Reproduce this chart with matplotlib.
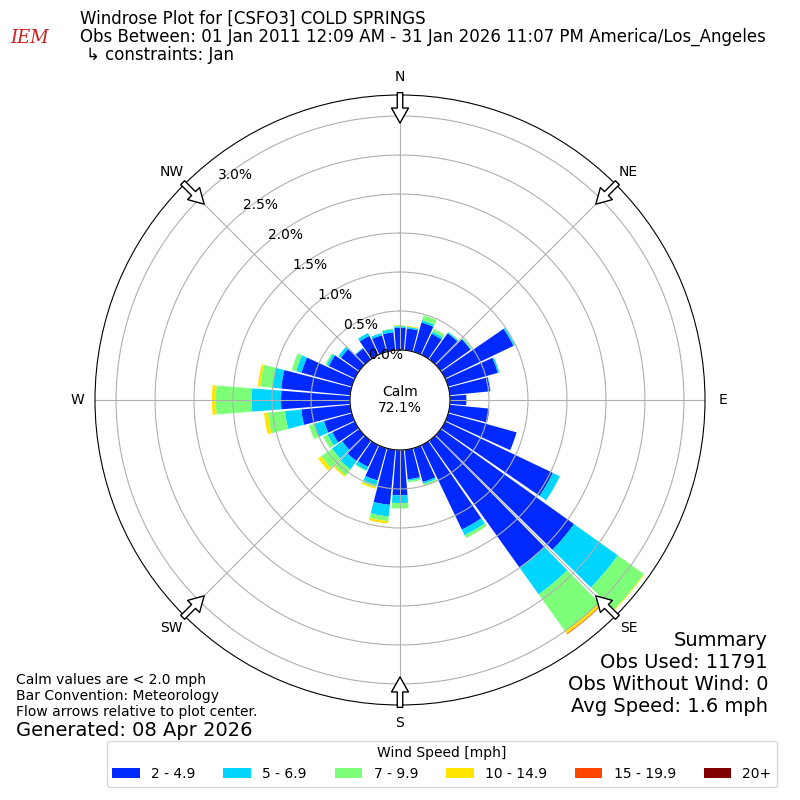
import numpy as np
import matplotlib
matplotlib.use("Agg")
import matplotlib.pyplot as plt

# wind direction bins (deg, direction wind is from)
directions = np.arange(0, 360, 10)
speed_labels = ["2 - 4.9", "5 - 6.9", "7 - 9.9", "10 - 14.9", "15 - 19.9", "20+"]

# percent of obs per direction bin, one list per speed bin
spd_2_5 = [0.285, 0.28, 0.39, 0.30, 0.41, 0.47, 0.97, 0.66, 0.52, 0.21,
           0.51, 0.91, 1.53, 2.10, 2.00, 1.20, 0.45, 0.38, 0.58, 0.71,
           0.43, 0.31, 0.32, 0.27, 0.32, 0.37, 0.63, 0.885, 0.89, 0.67,
           0.37, 0.29, 0.17, 0.27, 0.22, 0.23]
spd_5_7 = [0.02, 0.02, 0.03, 0.03, 0.015, 0.01, 0.02, 0.02, 0.005, 0.0,
           0.0, 0.0, 0.10, 0.69, 0.42, 0.08, 0.025, 0.02, 0.10, 0.15,
           0.06, 0.05, 0.13, 0.16, 0.07, 0.13, 0.21, 0.375, 0.11, 0.07,
           0.03, 0.04, 0.01, 0.04, 0.03, 0.04]
spd_7_10 = [0.01, 0.005, 0.065, 0.04, 0.01, 0.01, 0.005, 0.0, 0.0, 0.0,
            0.0, 0.0, 0.005, 0.41, 0.58, 0.04, 0.025, 0.02, 0.07, 0.06,
            0.03, 0.01, 0.10, 0.17, 0.06, 0.07, 0.22, 0.46, 0.16, 0.06,
            0.02, 0.0, 0.0, 0.0, 0.0, 0.01]
spd_10_15 = [0.005, 0.01, 0.0, 0.0, 0.0, 0.0, 0.0, 0.0, 0.0, 0.0,
             0.0, 0.0, 0.0, 0.01, 0.04, 0.0, 0.0, 0.0, 0.0, 0.03,
             0.02, 0.0, 0.02, 0.05, 0.0, 0.0, 0.05, 0.05, 0.03, 0.0,
             0.0, 0.0, 0.0, 0.0, 0.0, 0.0]
spd_15_20 = [0.0] * 14 + [0.01] + [0.0] * 21
spd_20p = [0.0] * 36

calm_pct = 72.1
rticks = [0.0, 0.5, 1.0, 1.5, 2.0, 2.5, 3.0]
compass = ["N", "NE", "E", "SE", "S", "SW", "W", "NW"]

speed_data = [spd_2_5, spd_5_7, spd_7_10, spd_10_15, spd_15_20, spd_20p]
colors = plt.get_cmap("jet")(np.linspace(0, 1, 7)[1:])

fig = plt.figure(figsize=(8, 8), dpi=100)
ax = fig.add_axes([0.11875, 0.11875, 0.7625, 0.7625], projection="polar")
ax.set_theta_zero_location("N")
ax.set_theta_direction(-1)

rmax = 3.27
ax.set_rorigin(-0.641)
ax.set_ylim(0, rmax)

theta = np.deg2rad(directions)
bottom = np.zeros(len(directions))
handles = []
for vals, col, lab in zip(speed_data, colors, speed_labels):
    vals = np.array(vals)
    b = ax.bar(theta, vals, width=np.deg2rad(9), bottom=bottom, color=col,
               linewidth=0, label=lab)
    handles.append(b)
    bottom = bottom + vals

ax.set_yticks(rticks)
ax.set_yticklabels(["%.1f%%" % r for r in rticks], fontsize=10)
ax.set_rlabel_position(-40)
ax.set_xticks(np.deg2rad(np.arange(0, 360, 45)))
ax.set_xticklabels(compass, fontsize=10)
ax.tick_params(axis="x", pad=2.5)
ax.grid(True, color="#b0b0b0", linewidth=0.8)

# flow arrows on the compass points
for d in np.arange(0, 360, 45):
    t = np.deg2rad(d)
    ax.annotate("", xy=(t, rmax - 0.36), xytext=(t, rmax + 0.03),
                arrowprops=dict(arrowstyle="simple,head_length=0.6,head_width=0.68,tail_width=0.22",
                                fc="white", ec="black", lw=1, mutation_scale=18,
                                shrinkA=0, shrinkB=0),
                zorder=5)

fig.text(0.5, 0.5, "Calm\n%.1f%%" % calm_pct, ha="center", va="center",
         fontsize=10, linespacing=1.1)

# header
fig.text(0.1, 1 - 19 / 800, "Windrose Plot for [CSFO3] COLD SPRINGS",
         fontsize=12, va="center")
fig.text(0.1, 1 - 37 / 800,
         "Obs Between: 01 Jan 2011 12:09 AM - 31 Jan 2026 11:07 PM America/Los_Angeles",
         fontsize=12, va="center")
fig.text(0.108, 1 - 55 / 800, "\u21b3 constraints: Jan", fontsize=12, va="center")
fig.text(0.0375, 1 - 38 / 800, "IEM", fontsize=13, color="#cc1f1f",
         family="DejaVu Serif", style="italic", ha="center", va="center")

# footer notes
fig.text(0.02, 1 - 680 / 800, "Calm values are < 2.0 mph", fontsize=10, va="center")
fig.text(0.02, 1 - 696 / 800, "Bar Convention: Meteorology", fontsize=10, va="center")
fig.text(0.02, 1 - 712 / 800, "Flow arrows relative to plot center.", fontsize=10, va="center")
fig.text(0.02, 1 - 730 / 800, "Generated: 08 Apr 2026", fontsize=14, va="center")

summary = ["Summary", "Obs Used: 11791", "Obs Without Wind: 0", "Avg Speed: 1.6 mph"]
for i, s in enumerate(summary):
    fig.text(0.96, 1 - (640 + 22 * i) / 800, s, fontsize=14, ha="right", va="center")

fig.legend(handles=handles, labels=speed_labels, loc="lower center",
           bbox_to_anchor=(0.5525, 0.008), ncol=6, fontsize=10,
           title="Wind Speed [mph]", title_fontsize=10)

fig.savefig("out.png", dpi=100)
